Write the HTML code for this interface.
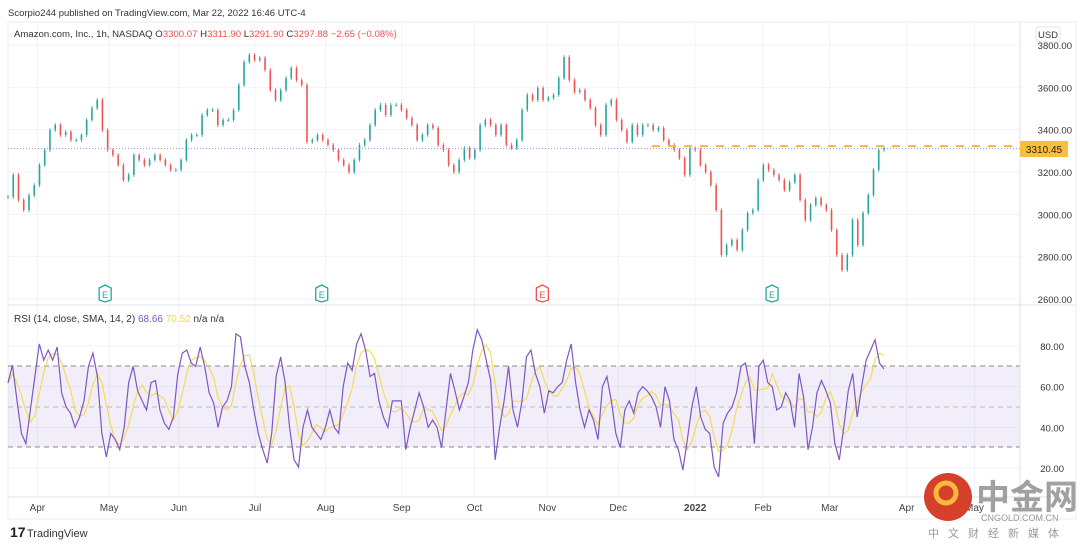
<!DOCTYPE html>
<html><head><meta charset="utf-8">
<style>
body{margin:0;background:#fff;font-family:"Liberation Sans","Noto Sans CJK SC",sans-serif;}
#wrap{position:relative;width:1080px;height:547px;overflow:hidden;background:#fff}
</style></head>
<body>
<div id="wrap">
<svg id="svg" width="1080" height="547" xmlns="http://www.w3.org/2000/svg">
<text x="8" y="16" font-size="9.5" fill="#333">Scorpio244 published on TradingView.com, Mar 22, 2022 16:46 UTC-4</text>
<rect x="8" y="22" width="1068" height="497" fill="none" stroke="#eceef2"/>
<g id="grid"></g>
<rect x="8" y="366" width="1012" height="81" fill="#7e57c2" fill-opacity="0.1"/>
<line x1="8" y1="366" x2="1020" y2="366" stroke="#888" stroke-dasharray="5,4"/>
<line x1="8" y1="407" x2="1020" y2="407" stroke="#bbb" stroke-dasharray="5,4"/>
<line x1="8" y1="447" x2="1020" y2="447" stroke="#888" stroke-dasharray="5,4"/>
<line x1="8" y1="305" x2="1076" y2="305" stroke="#e0e3eb"/>
<line x1="8" y1="497" x2="1076" y2="497" stroke="#e0e3eb"/>
<line x1="1020" y1="22" x2="1020" y2="519" stroke="#e0e3eb"/>
<g id="candles"></g>
<line id="lastline" x1="8" x2="1020" stroke="#9c8ee0" stroke-dasharray="1,2"/>
<line id="orangeline" x1="652" x2="1020" stroke="#f6b93b" stroke-width="2" stroke-dasharray="8,8"/>
<g id="rsi"></g>
<g id="axes"></g>
<text x="14" y="37" font-size="9.6" fill="#333">Amazon.com, Inc., 1h, NASDAQ <tspan fill="#333">O</tspan><tspan fill="#ef5350">3300.07</tspan> <tspan fill="#333">H</tspan><tspan fill="#ef5350">3311.90</tspan> <tspan fill="#333">L</tspan><tspan fill="#ef5350">3291.90</tspan> <tspan fill="#333">C</tspan><tspan fill="#ef5350">3297.88</tspan> <tspan fill="#ef5350">−2.65 (−0.08%)</tspan></text>
<text x="14" y="322" font-size="10" fill="#333">RSI (14, close, SMA, 14, 2) <tspan fill="#7e57c2">68.66</tspan> <tspan fill="#f5d94a">70.52</tspan> n/a  n/a</text>
<rect x="1036" y="27" width="24" height="15" rx="3" fill="#fff" stroke="#e0e3eb"/>
<text x="1048" y="38" font-size="9.5" fill="#333" text-anchor="middle">USD</text>
<rect x="1020" y="141" width="48" height="16" rx="1" fill="#f9bf3b"/>
<text x="1044" y="153" font-size="10" fill="#222" text-anchor="middle">3310.45</text>
<g>
<text x="10" y="537" font-size="14" font-weight="bold" fill="#222">17</text>
<text x="27" y="537" font-size="11" fill="#333">TradingView</text>
</g>
<g>
<circle cx="948" cy="497" r="24" fill="#d6402a"/>
<circle cx="946" cy="493" r="10" fill="none" stroke="#f6b93b" stroke-width="5"/>
<text x="976" y="509" font-size="34" font-weight="bold" fill="#8a8a8a" fill-opacity="0.8" font-family="Noto Sans CJK SC, sans-serif">中金网</text>
<text x="981" y="521" font-size="9" fill="#999">CNGOLD.COM.CN</text>
<text x="928" y="537" font-size="11" fill="#999" letter-spacing="9" font-family="Noto Sans CJK SC, sans-serif">中文财经新媒体</text>
</g>
</svg>
</div>
<script>
const priceCloses=[3082,3186,3068,3020,3090,3138,3233,3304,3398,3422,3375,3389,3351,3351,3375,3446,3502,3540,3398,3304,3280,3233,3162,3186,3280,3257,3233,3257,3280,3257,3233,3210,3210,3257,3351,3375,3375,3469,3493,3493,3422,3446,3446,3493,3611,3720,3753,3729,3739,3682,3587,3540,3587,3644,3691,3634,3611,3342,3351,3375,3351,3328,3304,3257,3233,3200,3257,3328,3351,3422,3493,3517,3469,3517,3517,3493,3455,3422,3351,3375,3422,3408,3328,3304,3233,3200,3257,3313,3266,3304,3422,3446,3422,3375,3422,3328,3313,3351,3493,3564,3540,3597,3540,3550,3564,3644,3743,3634,3578,3587,3540,3502,3422,3375,3517,3540,3446,3398,3342,3422,3375,3422,3422,3398,3408,3351,3328,3304,3266,3186,3313,3304,3233,3200,3138,3020,2808,2855,2879,2832,2926,3006,3020,3162,3233,3210,3186,3162,3115,3152,3186,3068,2973,3044,3077,3044,3020,2926,2808,2737,2808,2973,2855,3006,3091,3210,3304,3313];
const rsiValues=[61.8,70.6,53.4,37,32,48.5,64.7,81,73,78,73,79.5,57,50,47,40,45,53,70,76.5,65,37,25.4,37,34,29,40,62,70,58,53,48.5,62,63,48.5,42,39,45,66.5,76.5,78,71.6,70,79.5,70,57,52,40,50,53,60,86,84.5,70,62,48.5,37,29,22.4,37,65,74.6,62,40,24,20.5,40,48.5,40,37,34,40,48.5,40,37,60,71.6,68,81,86,78,65,66.5,53,45,40,53,53,53,29,40,48.5,57,50,40,43.6,40,30,48.5,66.5,58,48.5,55,62,78,88,83,73,63,24,40,53,70,48.5,40,53,74.6,78,66.5,60,47,58,57,60,62,73,81,62,48.5,40,48.5,43.6,34,60,65,53,37,30,48.5,53,47,57,60,58,55,50,40,60,53,34,29,19,34,50,60,45,39,37,20.5,15.6,42,47,50,57,70,71.6,60,32,70,73,62,60,48.5,50,57,53,40,66.5,55,29,40,57,63,58,52,32,24,40,58,66.5,45,60,73,78,83,71.6,68.66];
const priceTicks=[3800,3600,3400,3200,3000,2800,2600];
const rsiTicks=[80,60,40,20];
const monthLabels=["Apr","May","Jun","Jul","Aug","Sep","Oct","Nov","Dec","2022","Feb","Mar","Apr","May"];
const monthPos=[0.029,0.1,0.169,0.244,0.314,0.389,0.461,0.533,0.603,0.679,0.746,0.812,0.888,0.955];
const lastPrice=3310.45;
const levelPrice=3322;

const NS="http://www.w3.org/2000/svg";
const X0=8,X1=884,XR=1020;
function yP(p){return 45+(3800-p)*254/1200;}
function yR(v){return 346+(80-v)*2.033;}
function xI(i,n){return X0+i*(X1-X0)/(n-1);}
function xM(f){return X0+f*(XR-X0);}
function mk(tag,attrs,parent){const e=document.createElementNS(NS,tag);for(const k in attrs)e.setAttribute(k,attrs[k]);parent.appendChild(e);return e;}
const grid=document.getElementById('grid'),axes=document.getElementById('axes');
priceTicks.forEach(p=>{
 const l=mk('line',{x1:X0,x2:XR,y1:yP(p),y2:yP(p),stroke:'#f0f3fa'},grid);
 
 
 const t=mk('text',{x:1072,y:yP(p)+4,'font-size':9.5,fill:'#333','text-anchor':'end'},axes);
 t.textContent=p.toFixed(2);
 
 
});
rsiTicks.forEach(v=>{
 const l=mk('line',{x1:X0,x2:XR,y1:yR(v),y2:yR(v),stroke:'#f0f3fa'},grid);
 
 
 const t=mk('text',{x:1064,y:yR(v)+4,'font-size':9.5,fill:'#333','text-anchor':'end'},axes);
 t.textContent=v.toFixed(2);
 
 
});
monthLabels.forEach((m,i)=>{
 const x=xM(monthPos[i]);
 const l=mk('line',{x1:x,x2:x,y1:22,y2:497,stroke:'#f0f3fa'},grid);
 
 
 const t=mk('text',{x:x,y:511,'font-size':10,fill:'#444','text-anchor':'middle','font-weight':m==='2022'?'bold':'normal'},axes);
 t.textContent=m;
 
 
});
const cg=document.getElementById('candles');const n=priceCloses.length;
for(let i=0;i<n;i++){
 const o=i?priceCloses[i-1]:priceCloses[0],c=priceCloses[i];
 const x=xI(i,n),col=c>=o?'#26a69a':'#ef5350';
 const y1=yP(Math.max(o,c)),y2=yP(Math.min(o,c));
 const w=mk('line',{x1:x,x2:x,y1:y1-2,y2:y2+2,stroke:col,'stroke-width':0.8},cg);
 
 
 const b=mk('rect',{x:x-0.8,y:y1,width:1.6,height:Math.max(1,y2-y1),fill:col},cg);
 
 
}
const ll=document.getElementById('lastline');ll.setAttribute('y1',yP(lastPrice));ll.setAttribute('y2',yP(lastPrice));
const ol=document.getElementById('orangeline');ol.setAttribute('y1',yP(levelPrice));ol.setAttribute('y2',yP(levelPrice));
[[0.096,'#26a69a'],[0.31,'#26a69a'],[0.528,'#ef5350'],[0.755,'#26a69a']].forEach(e=>{
 const x=xM(e[0]);
 const g=mk('g',{},cg);
 
 
 mk('path',{d:`M${x-6},${288} L${x},${285} L${x+6},${288} L${x+6},${300} L${x},${302} L${x-6},${300}Z`,fill:'#fff',stroke:e[1],'stroke-width':1.3},g);
 const t=mk('text',{x:x,y:298,'font-size':9,fill:e[1],'text-anchor':'middle'},g);t.textContent='E';
});
const rg=document.getElementById('rsi');const m=rsiValues.length;
const sma=rsiValues.map((v,i)=>{let s=0,k=0;for(let j=Math.max(0,i-3);j<=i;j++){s+=rsiValues[j];k++;}return s/k;});
const sl=mk('polyline',{points:sma.map((v,i)=>xI(i,m)+','+yR(v)).join(' '),fill:'none',stroke:'#f5d94a','stroke-width':1.1},rg);


const rl=mk('polyline',{points:rsiValues.map((v,i)=>xI(i,m)+','+yR(v)).join(' '),fill:'none',stroke:'#7e57c2','stroke-width':1.2},rg);


</script>
</body></html>
